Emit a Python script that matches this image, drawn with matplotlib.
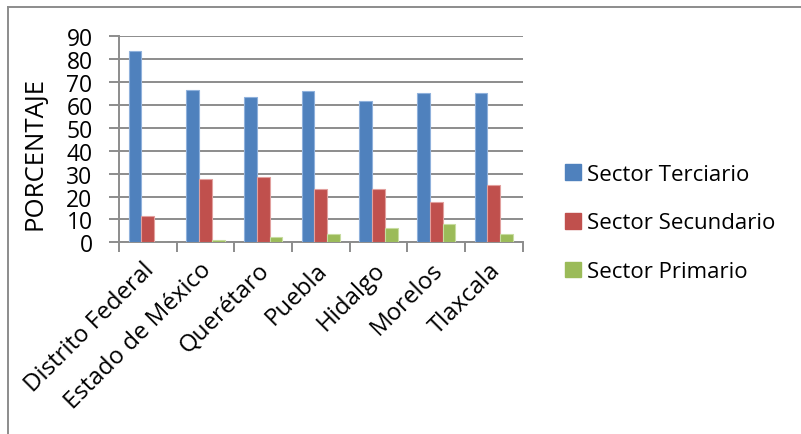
import matplotlib.pyplot as plt
from matplotlib.lines import Line2D
from matplotlib.patches import Patch
import numpy as np

plt.rcParams['font.family'] = ['Open Sans', 'DejaVu Sans']

# Participación por sector en cada entidad (%)
estados = ['Distrito Federal', 'Estado de México', 'Querétaro', 'Puebla',
           'Hidalgo', 'Morelos', 'Tlaxcala']
terciario = [83.7, 66.5, 63.3, 66.0, 61.6, 65.2, 65.1]
secundario = [11.5, 27.5, 28.4, 23.3, 23.1, 17.6, 25.2]
primario = [0.2, 1.1, 2.5, 3.6, 6.2, 8.0, 3.6]

series = [('Sector Terciario', terciario, '#4f81bd', '#8fb1dc'),
          ('Sector Secundario', secundario, '#c0504d', '#e2a09e'),
          ('Sector Primario', primario, '#9bbb59', '#c7dca0')]

grey = '#8c8c8c'

fig = plt.figure(figsize=(8.01, 4.35), dpi=100)
ax = fig.add_axes([119 / 801, 1 - 243.3 / 435, (522.7 - 119) / 801, (243.3 - 37.3) / 435])

x = np.arange(len(estados))
w = 1 / 4.5
for i, (name, vals, color, edge) in enumerate(series):
    ax.bar(x + (i - 1) * w, vals, width=w, color=color, edgecolor=edge,
           linewidth=0.8, label=name, zorder=3)

ax.set_xlim(-0.5, len(estados) - 0.5)
ax.set_ylim(0, 90)
ax.set_yticks(range(0, 91, 10))
ax.yaxis.grid(True, color=grey, linewidth=1.4, zorder=0)
ax.set_axisbelow(True)

# etiquetas rotadas ancladas un poco a la izquierda del centro de cada grupo
ax.set_xticks(x - 0.1)
ax.set_xticklabels(estados, rotation=45, ha='right', va='top',
                   rotation_mode='anchor', fontsize=17.3)
ax.set_xticks(np.arange(-0.5, len(estados)), minor=True)
ax.tick_params(axis='x', which='major', length=0, pad=11)
ax.tick_params(axis='x', which='minor', length=7, width=1.4, color=grey)
ax.tick_params(axis='y', length=7, width=1.4, color=grey, labelsize=16.5, pad=12)

for s in ['top', 'right']:
    ax.spines[s].set_visible(False)
for s in ['left', 'bottom']:
    ax.spines[s].set_color(grey)
    ax.spines[s].set_linewidth(1.4)

ax.set_ylabel('PORCENTAJE', fontsize=18.5, va='center')
ax.yaxis.set_label_coords((35 - 119) / 403.7, (243.3 - 154) / 206)

handles = [Patch(facecolor=c, edgecolor=c) for _, _, c, _ in series]
fig.legend(handles, [n for n, _, _, _ in series], loc='center left',
           bbox_to_anchor=(545 / 801, 1 - 224 / 435), frameon=False,
           fontsize=16, handlelength=0.7, handleheight=0.7,
           handletextpad=0.3, labelspacing=1.25)

# marco del área del gráfico
fig.add_artist(Line2D([8 / 801, 1], [1 - 8 / 435] * 2, color=grey, linewidth=1.4))
fig.add_artist(Line2D([8 / 801] * 2, [0, 1 - 8 / 435], color=grey, linewidth=1.4))

fig.savefig('out.png', dpi=100)
